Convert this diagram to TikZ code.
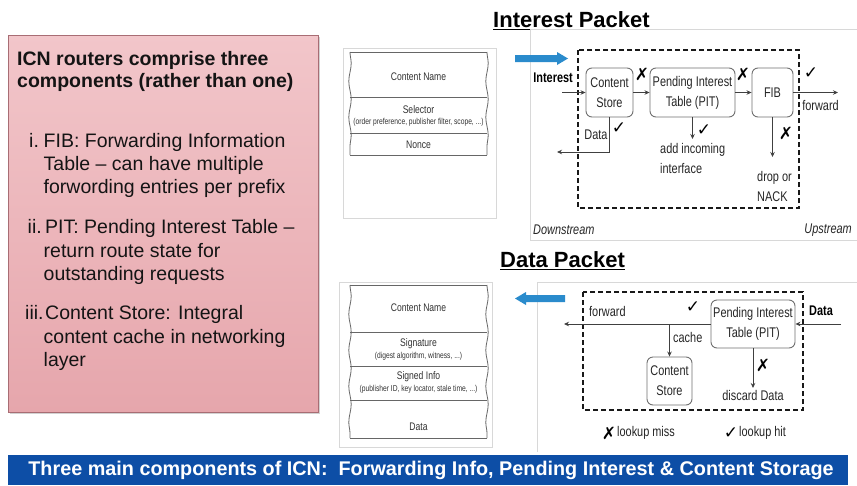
\documentclass[tikz,border=0pt]{standalone}
\usepackage{fontspec}
\setmainfont{Liberation Sans}
\newfontfamily\nar[FakeStretch=0.78]{Liberation Sans}
\newfontfamily\symf{DejaVu Sans}
\usetikzlibrary{arrows.meta,decorations.pathmorphing,shadows}
\definecolor{pinkA}{HTML}{F2C6CA}
\definecolor{pinkB}{HTML}{F9DEE0}
\definecolor{pinkC}{HTML}{E6A6AC}
\definecolor{pinkedge}{HTML}{A86D74}
\definecolor{bannerblue}{HTML}{0D4EA6}
\definecolor{arrowblue}{HTML}{2A8BCC}
\definecolor{framegray}{HTML}{D8D8D8}
\definecolor{boxgray}{HTML}{707070}
\definecolor{tblgray}{HTML}{666666}
\tikzset{
  lt/.style={anchor=base west, inner sep=0, text=black!92, font=\fontsize{19.5}{23}\selectfont},
  ltb/.style={anchor=base west, inner sep=0, text=black!92, font=\bfseries\fontsize{19.5}{23}\selectfont},
  fld/.style={inner sep=0, text=black!80, font=\nar\fontsize{11}{13}\selectfont},
  fsub/.style={inner sep=0, text=black!80, font=\nar\fontsize{8.6}{10}\selectfont},
  comp/.style={draw=boxgray, rounded corners=6pt, line width=0.9pt, fill=white, align=center,
    font=\nar\fontsize{14}{20}\selectfont, text=black!85, inner sep=0},
  lbl/.style={inner sep=0, text=black!85, font=\nar\fontsize{14}{20}\selectfont},
  lblb/.style={inner sep=0, text=black, font=\nar\bfseries\fontsize{14}{20}\selectfont},
  chk/.style={inner sep=0, text=black, font=\symf\fontsize{17}{17}\selectfont},
  arr/.style={-{Stealth[length=5pt,width=4.5pt]}, line width=0.8pt, draw=black!75},
  dashbox/.style={draw=black!90, line width=1.4pt, dash pattern=on 5pt off 3pt},
  tline/.style={draw=tblgray, line width=0.8pt},
  wavy/.style={draw=tblgray, line width=0.8pt, decorate, decoration={snake, amplitude=1.2pt, segment length=36pt}},
  ttl/.style={inner sep=0, anchor=base west, font=\bfseries\fontsize{22}{26}\selectfont},
}
\begin{document}
\begin{tikzpicture}[x=1pt,y=-1pt]
\useasboundingbox (0,0) rectangle (857,485);
\fill[white] (0,0) rectangle (857,485);

% ---------------- left pink box ----------------
\path[draw=pinkedge, line width=0.8pt, top color=pinkA, middle color=pinkB, bottom color=pinkC,
  drop shadow={shadow xshift=2pt, shadow yshift=-2pt, opacity=0.35}] (8,35) rectangle (318,412);
\node[ltb] (h1) at (17,65) {ICN routers comprise three};
\node[ltb] (h2) at (17,87) {components (rather than one)};
\node[lt] (i1) at (29,147) {i.};
\node[lt] (i1a) at (43.5,147) {FIB: Forwarding Information};
\node[lt] (i1b) at (43.5,170) {Table – can have multiple};
\node[lt] (i1c) at (43.5,193) {forwording entries per prefix};
\node[lt] (i2) at (27.5,233) {ii.};
\node[lt] (i2a) at (45,233) {PIT: Pending Interest Table –};
\node[lt] (i2b) at (43.5,257) {return route state for};
\node[lt] (i2c) at (43.5,280) {outstanding requests};
\node[lt] (i3) at (25,319) {iii.};
\node[lt] (i3a) at (45,319) {Content Store: Integral};
\node[lt] (i3b) at (43.5,343) {content cache in networking};
\node[lt] (i3c) at (43.5,366) {layer};

% ---------------- Interest packet header ----------------
\draw[framegray, line width=0.8pt] (343,48) rectangle (496,218);
\draw[tline] (350,52) -- (487,52);
\draw[tline] (350,97) -- (487,97);
\draw[tline] (350,133) -- (487,133);
\draw[tline] (350,155) -- (487,155);
\draw[wavy] (350,52) -- (350,155);
\draw[wavy] (487,52) -- (487,155);
\node[fld] (hCN) at (418.5,77) {Content Name};
\node[fld] (hSel) at (418.5,110) {Selector};
\node[fsub] (hSelS) at (418.5,122) {(order preference, publisher filter, scope, ...)};
\node[fld] (hNon) at (418.5,145) {Nonce};

% ---------------- Data packet header ----------------
\draw[framegray, line width=0.8pt] (339,282) rectangle (492,447);
\draw[tline] (350,285) -- (487,285);
\draw[tline] (350,332) -- (487,332);
\draw[tline] (350,366) -- (487,366);
\draw[tline] (350,400) -- (487,400);
\draw[tline] (350,438) -- (487,438);
\draw[wavy] (350,285) -- (350,438);
\draw[wavy] (487,285) -- (487,438);
\node[fld] (dCN) at (418.5,308) {Content Name};
\node[fld] (dSig) at (418.5,344) {Signature};
\node[fsub] (dSigS) at (418.5,356) {(digest algorithm, witness, ...)};
\node[fld] (dSI) at (418.5,377) {Signed Info};
\node[fsub] (dSIS) at (418.5,389) {(publisher ID, key locator, stale time, ...)};
\node[fld] (dDat) at (418.5,427) {Data};

% ---------------- Interest packet diagram ----------------
\node[ttl] (tI) at (493,27) {Interest Packet};
\draw[line width=1.6pt] ([yshift=-2.5pt]tI.base west) -- ([yshift=-2.5pt]tI.base east);
\draw[framegray, line width=0.8pt] (857,29) -- (530,29) -- (530,240) -- (857,240);
\fill[arrowblue] (515,55) -- (557,55) -- (557,52) -- (568,58.5) -- (557,65) -- (557,62) -- (515,62) -- cycle;
\draw[dashbox] (578,50) rectangle (799,208);
\node[comp, minimum width=47pt, minimum height=49pt] (csI) at (609.5,92.5) {Content\\Store};
\node[comp, minimum width=85pt, minimum height=49pt] (pitI) at (692.5,92.5) {Pending Interest\\Table (PIT)};
\node[comp, minimum width=41pt, minimum height=49pt] (fibI) at (772.5,92.5) {FIB};
\node[lblb, anchor=east] (intL) at (573,78) {Interest};
\coordinate (inI) at (562,92.5);
\draw[arr] (inI) -- (csI.west);
\draw[arr] (csI.east) -- (pitI.west);
\draw[arr] (pitI.east) -- (fibI.west);
\coordinate (fwdI) at (838,92.5);
\draw[arr] (fibI.east) -- (fwdI);
\node[lbl] (fwdIL) at (820.5,105) {forward};
\node[chk] (x1) at (642,74) {✗};
\node[chk] (x2) at (743,74) {✗};
\node[chk] (c1) at (811,73) {✓};
\coordinate (dOut) at (557,152);
\draw[arr] (csI.south) |- (dOut);
\node[lbl] (dataL) at (596,135) {Data};
\node[chk] (c2) at (619,128) {✓};
\coordinate (addI) at (692.5,139);
\draw[arr] (pitI.south) -- (addI);
\node[chk] (c3) at (704,130) {✓};
\node[lbl, align=left, anchor=west] (addL) at (660,158) {add incoming\\interface};
\coordinate (drpI) at (772.5,157);
\draw[arr] (fibI.south) -- (drpI);
\node[chk] (x3) at (786,133) {✗};
\node[lbl, align=left, anchor=west] (drpL) at (757,186) {drop or\\NACK};
\node[lbl, anchor=west, font=\nar\itshape\fontsize{14}{20}\selectfont] (dsL) at (533,230) {Downstream};
\node[lbl, anchor=east, font=\nar\itshape\fontsize{14}{20}\selectfont] (usL) at (852,230) {Upstream};

% ---------------- Data packet diagram ----------------
\node[ttl] (tD) at (500,267) {Data Packet};
\draw[line width=1.6pt] ([yshift=-2.5pt]tD.base west) -- ([yshift=-2.5pt]tD.base east);
\draw[framegray, line width=0.8pt] (857,282) -- (537,282) -- (537,452);
\fill[arrowblue] (565,295) -- (526,295) -- (526,292) -- (515,298.5) -- (526,305) -- (526,302) -- (565,302) -- cycle;
\draw[dashbox] (583,292) rectangle (803,410);
\node[comp, minimum width=84pt, minimum height=48pt] (pitD) at (753,324) {Pending Interest\\Table (PIT)};
\node[comp, minimum width=45pt, minimum height=48pt] (csD) at (669.5,381) {Content\\Store};
\node[lblb] (dataInL) at (821,311) {Data};
\coordinate (dIn) at (841,324);
\draw[arr] (dIn) -- (pitD.east);
\coordinate (fwdD) at (564,324);
\draw[arr] (pitD.west) -- (fwdD);
\node[lbl, anchor=west] (fwdDL) at (589,311) {forward};
\node[chk] (c4) at (693,307) {✓};
\coordinate (cacheTop) at (669.5,324);
\draw[arr] (cacheTop) -- (csD.north);
\node[lbl, anchor=west] (cacheL) at (673,337) {cache};
\coordinate (discD) at (753,388);
\draw[arr] (pitD.south) -- (discD);
\node[chk] (x4) at (763,365) {✗};
\node[lbl] (discL) at (753,395) {discard Data};
\node[chk] (xl) at (609,433) {✗};
\node[lbl, anchor=west] (missL) at (617,433) {lookup miss};
\node[chk] (cl) at (731,433) {✓};
\node[lbl, anchor=west] (hitL) at (739,433) {lookup hit};

% ---------------- bottom banner ----------------
\fill[bannerblue] (8,455) rectangle (848,485);
\node[inner sep=0, text=white, font=\bfseries\fontsize{19.8}{23}\selectfont] (ban) at (431,470.5)
  {Three main components of ICN:\ \ Forwarding Info, Pending Interest \& Content Storage};
\end{tikzpicture}
\end{document}
